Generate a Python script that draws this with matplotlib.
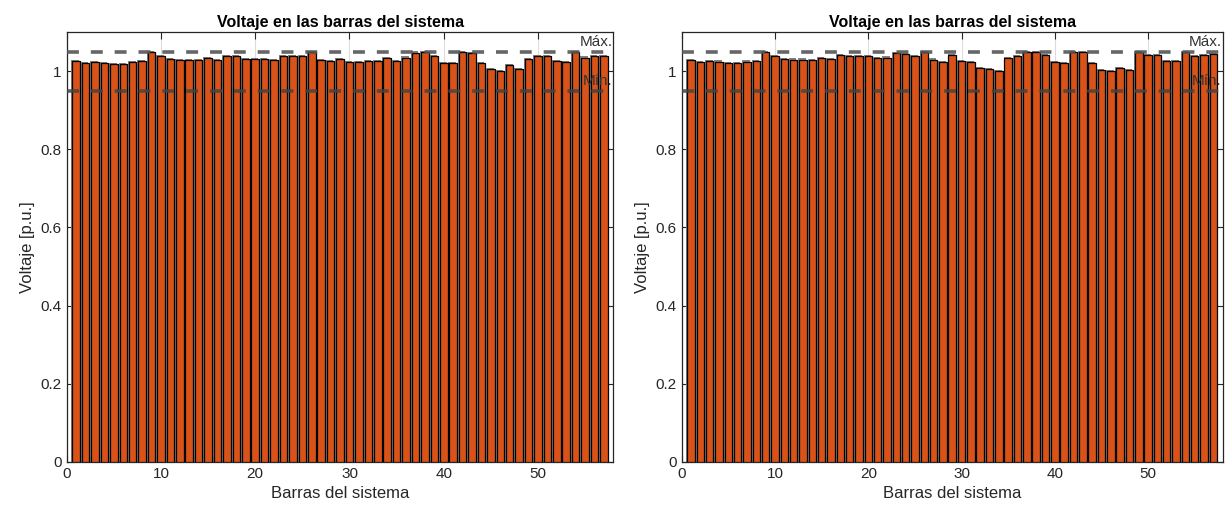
import numpy as np
import matplotlib.pyplot as plt

plt.rcParams['font.family'] = ['Liberation Sans', 'DejaVu Sans']

# Tensión en cada barra (p.u.), caso base y caso compensado
barras = np.arange(1, 58)
v_caso1 = [1.027, 1.021, 1.024, 1.021, 1.019, 1.019, 1.024, 1.026, 1.050, 1.039,
           1.032, 1.029, 1.029, 1.028, 1.034, 1.029, 1.039, 1.039, 1.032, 1.031,
           1.031, 1.029, 1.039, 1.039, 1.039, 1.050, 1.029, 1.027, 1.032, 1.024,
           1.023, 1.027, 1.026, 1.033, 1.027, 1.035, 1.048, 1.050, 1.038, 1.022,
           1.022, 1.050, 1.047, 1.022, 1.006, 1.000, 1.015, 1.006, 1.032, 1.038,
           1.039, 1.026, 1.024, 1.050, 1.035, 1.039, 1.039]
v_caso2 = [1.029, 1.023, 1.027, 1.025, 1.021, 1.021, 1.025, 1.027, 1.050, 1.039,
           1.032, 1.030, 1.030, 1.029, 1.034, 1.031, 1.042, 1.040, 1.040, 1.039,
           1.034, 1.035, 1.047, 1.045, 1.040, 1.050, 1.030, 1.023, 1.042, 1.027,
           1.024, 1.009, 1.006, 1.000, 1.034, 1.039, 1.050, 1.050, 1.042, 1.023,
           1.022, 1.050, 1.050, 1.021, 1.003, 1.000, 1.009, 1.003, 1.050, 1.041,
           1.042, 1.027, 1.027, 1.050, 1.040, 1.042, 1.045]

v_max = 1.05
v_min = 0.95

fig = plt.figure(figsize=(12.29, 5.2), dpi=100)
ax1 = fig.add_axes([0.0543, 0.1121, 0.4448, 0.8258])
ax2 = fig.add_axes([0.5547, 0.1121, 0.4402, 0.8258])

txt = '#262626'
for ax, v in [(ax1, v_caso1), (ax2, v_caso2)]:
    v = np.array(v)
    # sombra gris detrás de cada barra
    ax.bar(barras - 0.1, v + 0.003, width=0.8, color='#808080', zorder=2)
    ax.bar(barras, v, width=0.8, color='#D95319', edgecolor='black',
           linewidth=0.9, zorder=3)
    ax.axhline(v_max, color='#555555', ls=(0, (3.3, 3.3)), lw=2.6, alpha=0.9, zorder=4)
    ax.axhline(v_min, color='#444444', ls=(0, (3.3, 3.3)), lw=2.6, alpha=0.85, zorder=4)
    ax.text(57.9, 1.058, 'Máx.', ha='right', va='bottom', fontsize=11, color='#333333', zorder=5)
    ax.text(57.9, 0.958, 'Mín.', ha='right', va='bottom', fontsize=11, color='#333333', zorder=5)

    ax.set_xlim(0, 58)
    ax.set_ylim(0, 1.1)
    ax.set_xticks(np.arange(0, 60, 10))
    ax.set_yticks([0, 0.2, 0.4, 0.6, 0.8, 1.0])
    ax.set_yticklabels(['0', '0.2', '0.4', '0.6', '0.8', '1'])
    ax.grid(True, color='#dcdcdc', lw=0.8, zorder=0)
    ax.set_axisbelow(True)
    ax.tick_params(direction='in', length=5, top=True, right=True,
                   labelsize=11, colors=txt, width=0.8)
    for s in ax.spines.values():
        s.set_color('#262626')
        s.set_linewidth(0.9)
    ax.set_title('Voltaje en las barras del sistema', fontsize=11.5,
                 fontweight='bold', color='black', pad=4)
    ax.set_xlabel('Barras del sistema', fontsize=12, color=txt, labelpad=4)
    ax.set_ylabel('Voltaje [p.u.]', fontsize=12, color=txt, labelpad=4)

fig.savefig('out.png', dpi=100)
